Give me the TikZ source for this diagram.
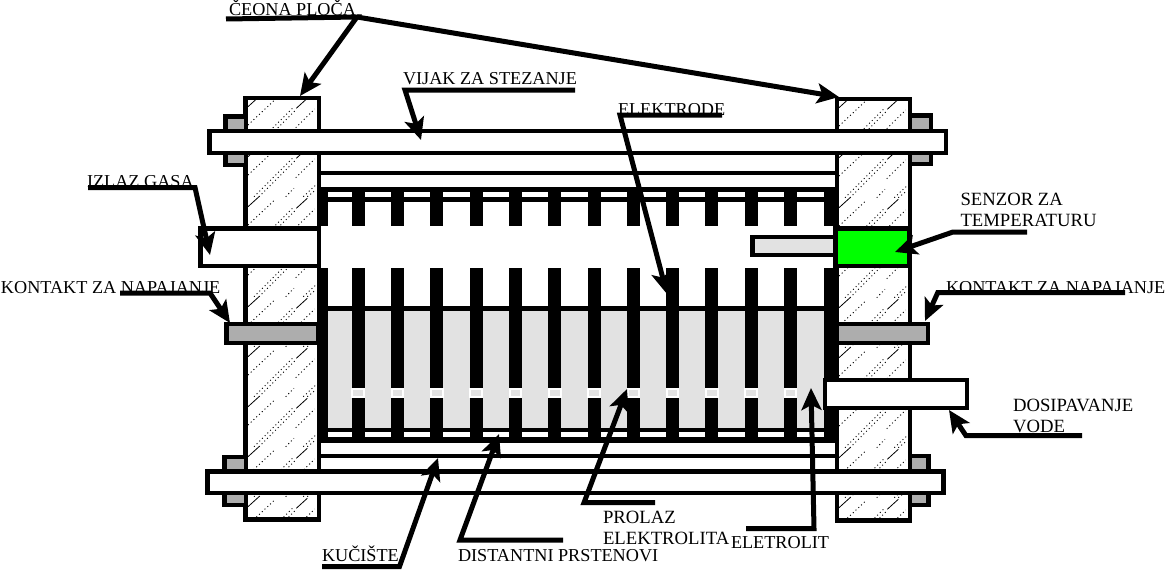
\documentclass[tikz,border=0pt]{standalone}
\usepackage{fontspec}
\setmainfont{Liberation Serif}
\usetikzlibrary{arrows.meta}
\definecolor{nutgray}{HTML}{ADADAD}
\definecolor{liqgray}{HTML}{E2E2E2}
\tikzset{
  part/.style={draw=black,line width=4.5pt,line join=miter},
  bar/.style={fill=black,draw=none},
  hatchdot/.style={line width=0.9pt,dash pattern=on 1pt off 2.8pt},
  hatchline/.style={line width=0.8pt},
  lead/.style={draw=black,line width=5pt,line join=miter,line cap=butt},
  pointer/.style={lead,-{Stealth[length=22pt,width=20pt,inset=5pt]}},
  lab/.style={inner sep=0pt,outer sep=0pt,anchor=base west,font=\fontsize{18.2}{21}\selectfont},
  lab2/.style={inner sep=0pt,outer sep=0pt,anchor=north west,align=left,font=\fontsize{18.7}{21}\selectfont},
}
\newcommand{\hatchtile}{%
  \foreach \ky in {-250,-200,...,200}{%
    \begin{scope}[shift={(0,\ky)}]
      \draw[hatchline] (4,11.7)--(15,1.7) (52.3,13.3)--(63.3,3.3);
      \draw[hatchdot] (4,30)--(31.7,4) (51.7,32.7)--(70.7,14) (10,51.7)--(50,11.7)
        (15,51.7)--(51.7,15) (41.7,51.7)--(50,43.3) (59.3,51.7)--(71.7,40) (63.3,51.7)--(71.7,45);
    \end{scope}}}
\begin{document}
\begin{tikzpicture}[x=1pt,y=-1pt]
\useasboundingbox (0,0) rectangle (1165,570);
\fill[white] (0,0) rectangle (1165,570);

% hatching of the end plates
\begin{scope}
  \clip (246,99) rectangle (318,519);
  \begin{scope}[shift={(244,345)}]\hatchtile\end{scope}
\end{scope}
\begin{scope}
  \clip (837,99) rectangle (909,520);
  \begin{scope}[shift={(835,346)}]\hatchtile\end{scope}
\end{scope}
\draw[part] (245.5,98) rectangle (319,519.5);
\draw[part] (837,99) rectangle (910,520.5);

% nuts
\draw[part,fill=nutgray] (225.5,116.5) rectangle (246,165);
\draw[part,fill=nutgray] (910,115.5) rectangle (931,164);
\draw[part,fill=nutgray] (224.5,457) rectangle (246,505);
\draw[part,fill=nutgray] (910,456) rectangle (928.5,505);

% housing and distance rings, top
\fill[bar] (319,170.6) rectangle (837,175.4);
\fill[bar] (317,187.3) rectangle (837,191.7);
\fill[bar] (317,196.7) rectangle (837,201.7);
% electrolyte
\fill[liqgray] (328,310) rectangle (824,428);
\fill[bar] (317,306) rectangle (837,310.7);
\fill[bar] (317,427.7) rectangle (837,431.7);
\fill[bar] (317,437.3) rectangle (837,442.7);
\fill[bar] (319,453.8) rectangle (837,458.3);
% end walls of the electrode pack
\fill[bar] (317,187.3) rectangle (328.3,226);
\fill[bar] (317,268) rectangle (328.3,442.7);
\fill[bar] (824,187.3) rectangle (838,226);
\fill[bar] (824,268) rectangle (838,442.7);
% electrodes
\foreach \i in {0,...,11}{
  \pgfmathsetmacro{\xl}{351.7+39.3*\i}
  \fill[bar] (\xl,187.3) rectangle ++(13,38.7);
  \fill[bar] (\xl,268) rectangle ++(13,174.7);
  \draw[draw=white,line width=2pt,fill=liqgray] (\xl+0.7,389.4) rectangle ++(11.6,7.6);
}

% tie rods
\draw[part,fill=white] (209.5,131) rectangle (946,153);
\draw[part,fill=white] (207.5,471.5) rectangle (943.7,493);

% ports and contacts
\draw[part,fill=white] (200.5,228.5) rectangle (319,266);
\draw[part,fill=nutgray] (226.5,324) rectangle (318,343);
\draw[part,fill=nutgray] (837,324) rectangle (927.8,343);
\draw[part,fill=liqgray] (752.5,237) rectangle (836,254.8);
\draw[part,fill=green] (835.7,228.5) rectangle (909,266);
\draw[part,fill=white] (825,380) rectangle (967,408);

% labels
\node[lab] (ceona) at (229,15) {ČEONA PLOČA};
\node[lab] (vijak) at (403,84) {VIJAK ZA STEZANJE};
\node[lab] (elektrode) at (618,115) {ELEKTRODE};
\node[lab] (izlaz) at (87,187) {IZLAZ GASA};
\node[lab] (kontaktl) at (1,293) {KONTAKT ZA NAPAJANJE};
\node[lab] (kontaktr) at (946,293) {KONTAKT ZA NAPAJANJE};
\node[lab2] (senzor) at (960.5,193) {SENZOR ZA\\TEMPERATURU};
\node[lab2] (dosip) at (1013,399.5) {DOSIPAVANJE\\VODE};
\node[lab2] (prolaz) at (603,511) {PROLAZ\\ELEKTROLITA};
\node[lab] (eletrolit) at (731,548) {ELETROLIT};
\node[lab] (distantni) at (458,561) {DISTANTNI PRSTENOVI};
\node[lab] (kuciste) at (322,561) {KUČIŠTE};

% leader coordinates
\coordinate (c1) at (226,19);
\coordinate (c2) at (357,17);
\coordinate (t1) at (300,96);
\coordinate (t2) at (839,97);
\coordinate (v1) at (575,90);
\coordinate (v2) at (405,90);
\coordinate (vt) at (421,140);
\coordinate (e1) at (722,115);
\coordinate (e2) at (620,115);
\coordinate (et) at (667,294);
\coordinate (i1) at (88,187.5);
\coordinate (i2) at (195,187.5);
\coordinate (it) at (210,255);
\coordinate (kl1) at (120,293);
\coordinate (kl2) at (210,293);
\coordinate (klt) at (230,323);
\coordinate (kr1) at (1125,292.7);
\coordinate (kr2) at (937.7,292.7);
\coordinate (krt) at (925,321);
\coordinate (s1) at (1027,232);
\coordinate (s2) at (953,232);
\coordinate (st) at (895,252);
\coordinate (d1) at (1082,435.7);
\coordinate (d2) at (966,435.7);
\coordinate (dt) at (949,410);
\coordinate (l1) at (746,528.5);
\coordinate (l2) at (814,528.5);
\coordinate (lt) at (811,388);
\coordinate (p1) at (655,502.7);
\coordinate (p2) at (584,502.7);
\coordinate (pt) at (627,389);
\coordinate (ds1) at (563,540);
\coordinate (ds2) at (460,540);
\coordinate (dst) at (499,434);
\coordinate (k1) at (322,566.5);
\coordinate (k2) at (399.5,566.5);
\coordinate (kt) at (438,458);

% leaders
\draw[pointer] (c1)--(c2)--(t1);
\draw[pointer] (c2)--(t2);
\draw[pointer] (v1)--(v2)--(vt);
\draw[pointer] (e1)--(e2)--(et);
\draw[pointer] (i1)--(i2)--(it);
\draw[pointer] (kl1)--(kl2)--(klt);
\draw[pointer] (kr1)--(kr2)--(krt);
\draw[pointer] (s1)--(s2)--(st);
\draw[pointer] (d1)--(d2)--(dt);
\draw[pointer] (l1)--(l2)--(lt);
\draw[pointer] (p1)--(p2)--(pt);
\draw[pointer] (ds1)--(ds2)--(dst);
\draw[pointer] (k1)--(k2)--(kt);
\end{tikzpicture}
\end{document}
